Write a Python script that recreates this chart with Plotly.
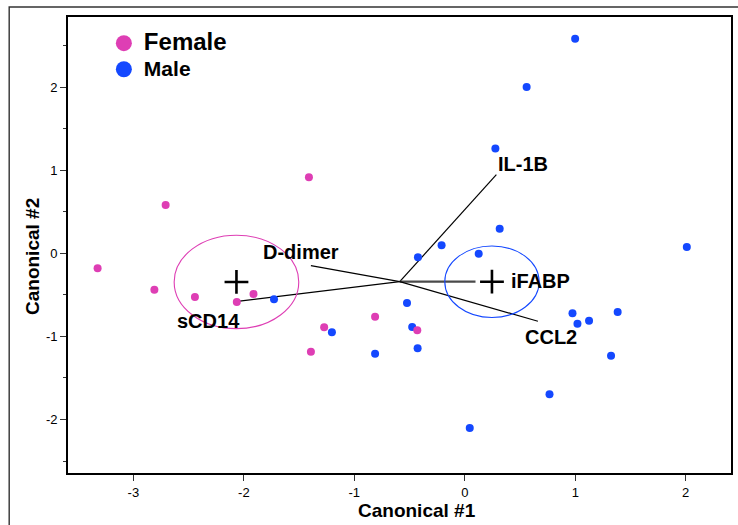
import plotly.graph_objects as go

# ---- data ----
female_x = [-3.324, -2.81, -2.443, -2.064, -1.913, -1.273, -1.393, -2.708, -1.411, -0.812, -0.43]
female_y = [-0.18, -0.438, -0.526, -0.586, -0.49, -0.89, -1.184, 0.581, 0.915, -0.763, -0.927]
male_x = [0.999, 0.56, 0.277, 0.316, -0.21, 0.126, 2.01, -0.424, -1.727, -1.203, -0.523,
          -0.476, -0.427, -0.812, 0.975, 1.02, 1.125, 1.384, 1.324, 0.767, 0.045]
male_y = [2.58, 2.00, 1.26, 0.296, 0.096, -0.005, 0.076, -0.048, -0.554, -0.951, -0.598,
          -0.887, -1.143, -1.208, -0.722, -0.847, -0.811, -0.706, -1.232, -1.697, -2.102]

group_names = ["Female", "Male"]
centroid_x = [-2.067, 0.246]
centroid_y = [-0.345, -0.342]
ellipse_rx = [0.564, 0.427]
ellipse_ry = [0.562, 0.43]

ray_origin = (-0.589, -0.342)
ray_names = ["IL-1B", "iFABP", "CCL2", "D-dimer", "sCD14"]
ray_end_x = [0.286, 0.097, 0.662, -1.393, -2.076]
ray_end_y = [0.946, -0.342, -0.818, -0.149, -0.582]
label_x = [0.528, 0.688, 0.781, -1.483, -2.324]
label_y = [1.075, -0.331, -1.013, 0.013, -0.818]

x_ticks = [-3, -2, -1, 0, 1, 2]
y_ticks = [-2, -1, 0, 1, 2]

PINK = "#DE3EB4"
BLUE = "#1448FF"
FONT = "Arial, Liberation Sans, Helvetica, sans-serif"
colors = [PINK, BLUE]

fig = go.Figure()

# rays
for i, name in enumerate(ray_names):
    is_ifabp = name == "iFABP"
    fig.add_trace(go.Scatter(
        x=[ray_origin[0], ray_end_x[i]], y=[ray_origin[1], ray_end_y[i]],
        mode="lines", showlegend=False, hoverinfo="skip",
        line=dict(color="#4a4a4a" if is_ifabp else "black", width=2.2 if is_ifabp else 1.2)))

# points
fig.add_trace(go.Scatter(x=male_x, y=male_y, mode="markers", showlegend=False,
                         marker=dict(color=BLUE, size=8)))
fig.add_trace(go.Scatter(x=female_x, y=female_y, mode="markers", showlegend=False,
                         marker=dict(color=PINK, size=8)))

# centroids
fig.add_trace(go.Scatter(x=centroid_x, y=centroid_y, mode="markers", showlegend=False,
                         marker=dict(symbol="cross-thin", size=17, color="black",
                                     line=dict(color="black", width=2.6))))

# legend entries
legend_sizes = [24, 21]
for i, g in enumerate(group_names):
    fig.add_trace(go.Scatter(x=[None], y=[None], mode="markers", name=f'<span style="font-size:{legend_sizes[i]}px">{g}</span>',
                             marker=dict(color=colors[i], size=18)))

# ellipses
for i in range(2):
    fig.add_shape(type="circle", xref="x", yref="y",
                  x0=centroid_x[i] - ellipse_rx[i], x1=centroid_x[i] + ellipse_rx[i],
                  y0=centroid_y[i] - ellipse_ry[i], y1=centroid_y[i] + ellipse_ry[i],
                  line=dict(color=colors[i], width=1.1))

# ray labels
for i, name in enumerate(ray_names):
    fig.add_annotation(x=label_x[i], y=label_y[i], text=f"<b>{name}</b>", showarrow=False,
                       font=dict(family=FONT, size=20, color="black"),
                       xanchor="center", yanchor="middle")

# axis titles
fig.add_annotation(xref="paper", yref="paper", x=0.527, y=-0.083, text="<b>Canonical #1</b>",
                   showarrow=False, font=dict(family=FONT, size=19, color="black"),
                   xanchor="center", yanchor="middle")
fig.add_annotation(xref="paper", yref="paper", x=-0.0526, y=0.474, text="<b>Canonical #2</b>",
                   showarrow=False, textangle=-90, font=dict(family=FONT, size=19, color="black"),
                   xanchor="center", yanchor="middle")

# outer frame
fig.add_shape(type="rect", xref="paper", yref="paper", x0=-0.0887, x1=1.03, y0=-0.14, y1=1.0219,
              line=dict(color="#333333", width=1.4), layer="above")

fig.update_layout(
    width=738, height=525,
    margin=dict(l=68, r=5, t=17, b=52),
    paper_bgcolor="white", plot_bgcolor="white",
    font=dict(family=FONT, color="black"),
    showlegend=True,
    legend=dict(x=0.0541, y=0.982, xanchor="left", yanchor="top",
                font=dict(family=FONT, size=17.7, color="black", weight="bold"),
                bgcolor="rgba(0,0,0,0)", borderwidth=0, itemsizing="trace"),
    xaxis=dict(range=[-3.592, 2.410], tickvals=x_ticks, ticktext=[str(v) for v in x_ticks],
               ticks="outside", ticklen=6, tickwidth=1, tickcolor="#333",
               showgrid=False, zeroline=False, showline=True, linecolor="black", linewidth=1.8,
               mirror=True, tickfont=dict(family=FONT, size=13, color="black")),
    yaxis=dict(range=[-2.644, 2.843], tickvals=y_ticks, ticktext=[str(v) for v in y_ticks],
               ticks="outside", ticklen=6, tickwidth=1, tickcolor="#333",
               minor=dict(dtick=0.5, tick0=0, ticks="outside", ticklen=3, tickcolor="#333", showgrid=False),
               showgrid=False, zeroline=False, showline=True, linecolor="black", linewidth=1.8,
               mirror=True, tickfont=dict(family=FONT, size=13, color="black")),
)

fig.write_html("out.html")
